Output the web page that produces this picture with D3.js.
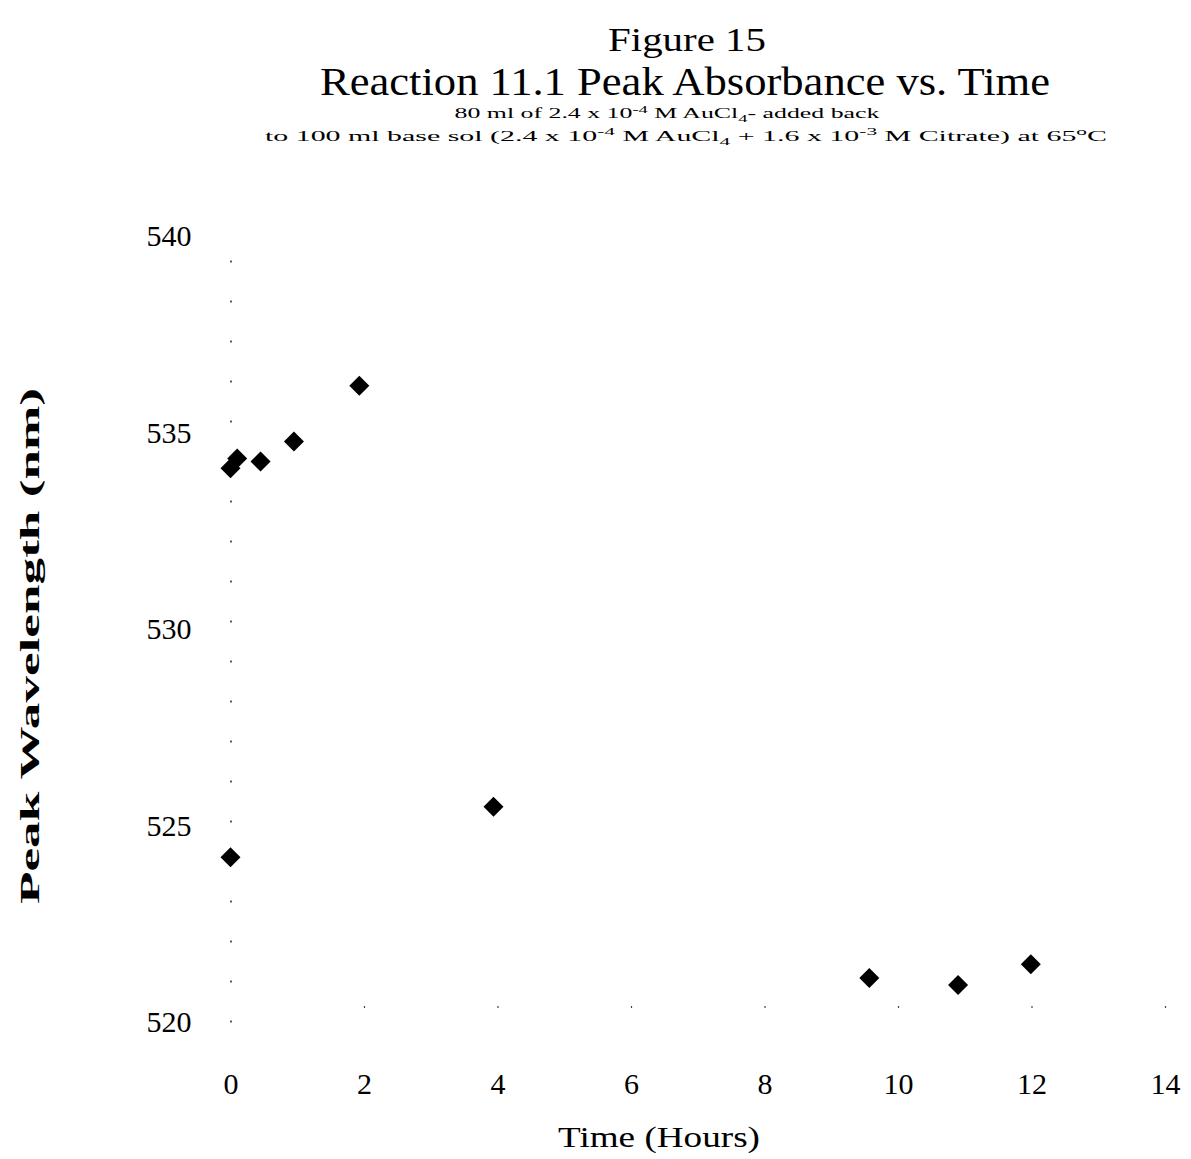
<!DOCTYPE html>
<html><head><meta charset="utf-8">
<script src="https://cdn.jsdelivr.net/npm/d3@7"></script>
<style>body{margin:0;background:#fff}svg{display:block}text{font-family:"Liberation Serif","DejaVu Serif",serif;fill:#000}</style>
</head><body>
<svg id="c" width="1191" height="1159"></svg>
<script>
const timeHours = [0, 0.1, 0.45, 0.95, 1.93, 3.94, 0, 9.57, 10.9, 11.99];
const peakWavelength = [534.09, 534.34, 534.26, 534.77, 536.19, 525.48, 524.19, 521.12, 520.94, 521.47];
const xTicks = [0, 2, 4, 6, 8, 10, 12, 14];
const yTicks = [520, 525, 530, 535, 540];

const svg = d3.select("#c");
const x = d3.scaleLinear().domain([0, 14]).range([230.5, 1165]);
const y = d3.scaleLinear().domain([520, 540]).range([1022, 236]);

// titles
svg.append("text").attr("x", 687).attr("y", 51).attr("text-anchor", "middle")
  .attr("font-size", 34).attr("textLength", 158).attr("lengthAdjust", "spacingAndGlyphs").text("Figure 15");
svg.append("text").attr("x", 685).attr("y", 95).attr("text-anchor", "middle")
  .attr("font-size", 40).attr("textLength", 730).attr("lengthAdjust", "spacingAndGlyphs").text("Reaction 11.1 Peak Absorbance vs. Time");

const s1 = svg.append("text").attr("x", 667).attr("y", 118).attr("text-anchor", "middle").attr("font-size", 14)
  .attr("textLength", 425).attr("lengthAdjust", "spacingAndGlyphs");
s1.append("tspan").text("80 ml of 2.4 x 10");
s1.append("tspan").attr("dy", -5).attr("font-size", 10).text("-4");
s1.append("tspan").attr("dy", 5).text(" M AuCl");
s1.append("tspan").attr("dy", 4).attr("font-size", 10).text("4");
s1.append("tspan").attr("dy", -4).text("- added back");

const s2 = svg.append("text").attr("x", 686).attr("y", 141).attr("text-anchor", "middle").attr("font-size", 14)
  .attr("textLength", 842).attr("lengthAdjust", "spacingAndGlyphs");
s2.append("tspan").text("to 100 ml base sol (2.4 x 10");
s2.append("tspan").attr("dy", -6).attr("font-size", 10).text("-4");
s2.append("tspan").attr("dy", 6).text(" M AuCl");
s2.append("tspan").attr("dy", 4).attr("font-size", 10).text("4");
s2.append("tspan").attr("dy", -4).text(" + 1.6 x 10");
s2.append("tspan").attr("dy", -6).attr("font-size", 10).text("-3");
s2.append("tspan").attr("dy", 6).text(" M Citrate) at 65");
s2.append("tspan").attr("dy", -6).attr("font-size", 10).text("o");
s2.append("tspan").attr("dy", 6).text("C");

// y axis (dotted)
const ya = svg.append("g").attr("transform", `translate(${x(0)},0)`)
  .call(d3.axisLeft(y).tickValues(yTicks).tickSize(0).tickPadding(39).tickFormat(d3.format("d")));
ya.select(".domain").attr("stroke", "#000").attr("stroke-width", 1.3).attr("stroke-dasharray", "2,38");
ya.selectAll("text").attr("font-size", 30).attr("font-family", "Liberation Serif").attr("dy", "0.33em");

// x axis: tick labels with faint dot marks
const xa = svg.append("g").attr("transform", `translate(0,1006)`)
  .call(d3.axisBottom(x).tickValues(xTicks).tickSize(2).tickPadding(86).tickFormat(d3.format("d")));
xa.select(".domain").remove();
xa.selectAll("line").attr("stroke", "#444").attr("stroke-width", 1.2);
xa.selectAll("text").attr("font-size", 30).attr("font-family", "Liberation Serif").attr("dy", "0");
xa.select(".tick line").remove();

// axis titles
svg.append("text").attr("x", 659).attr("y", 1147).attr("text-anchor", "middle")
  .attr("font-size", 30).attr("textLength", 202).attr("lengthAdjust", "spacingAndGlyphs").text("Time (Hours)");
svg.append("text").attr("transform", "translate(39,646) rotate(-90)").attr("text-anchor", "middle")
  .attr("font-size", 27).attr("font-weight", "bold").attr("textLength", 516).attr("lengthAdjust", "spacingAndGlyphs")
  .text("Peak Wavelength (nm)");

// points
const pts = timeHours.map((t, i) => ({t, w: peakWavelength[i]}));
const sym = d3.symbol().type(d3.symbolSquare).size(200);
svg.append("g").selectAll("path").data(pts).join("path")
  .attr("d", sym)
  .attr("transform", d => `translate(${x(d.t)},${y(d.w)}) rotate(45)`)
  .attr("fill", "#000");
</script>
</body></html>
